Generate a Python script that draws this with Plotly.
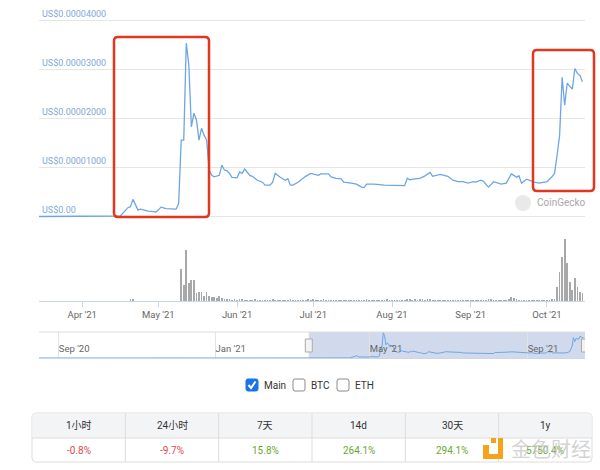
import pandas as pd
import plotly.graph_objects as go

W, H = 600, 470

# ---- price (USD, in units of 1e-5) ----
price_dates = [
    "2021-03-15", "2021-04-01", "2021-04-16", "2021-04-19", "2021-04-20", "2021-04-21",
    "2021-04-23", "2021-04-24", "2021-04-27", "2021-04-29", "2021-04-30", "2021-05-01",
    "2021-05-02", "2021-05-04", "2021-05-06", "2021-05-08", "2021-05-09", "2021-05-10",
    "2021-05-11", "2021-05-12", "2021-05-13", "2021-05-14", "2021-05-15", "2021-05-16",
    "2021-05-17", "2021-05-18", "2021-05-19", "2021-05-20", "2021-05-21", "2021-05-22",
    "2021-05-23", "2021-05-25", "2021-05-26", "2021-05-27", "2021-05-28", "2021-05-29",
    "2021-05-30", "2021-06-01", "2021-06-02", "2021-06-03", "2021-06-04", "2021-06-06",
    "2021-06-07", "2021-06-09", "2021-06-11", "2021-06-12", "2021-06-14", "2021-06-15",
    "2021-06-16", "2021-06-18", "2021-06-20", "2021-06-21", "2021-06-22", "2021-06-23",
    "2021-06-25", "2021-06-27", "2021-06-28", "2021-06-30", "2021-07-02", "2021-07-03",
    "2021-07-04", "2021-07-06", "2021-07-07", "2021-07-08", "2021-07-10", "2021-07-12",
    "2021-07-13", "2021-07-16", "2021-07-18", "2021-07-20", "2021-07-21", "2021-07-22",
    "2021-07-25", "2021-07-29", "2021-08-03", "2021-08-06", "2021-08-07", "2021-08-08",
    "2021-08-10", "2021-08-12", "2021-08-14", "2021-08-16", "2021-08-17", "2021-08-20",
    "2021-08-23", "2021-08-25", "2021-08-27", "2021-08-29", "2021-08-31", "2021-09-02",
    "2021-09-03", "2021-09-05", "2021-09-06", "2021-09-08", "2021-09-10", "2021-09-12",
    "2021-09-13", "2021-09-15", "2021-09-17", "2021-09-18", "2021-09-19", "2021-09-20",
    "2021-09-21", "2021-09-23", "2021-09-24", "2021-09-26", "2021-09-28", "2021-10-01",
    "2021-10-03", "2021-10-04", "2021-10-05", "2021-10-06", "2021-10-07", "2021-10-08",
    "2021-10-09", "2021-10-10", "2021-10-11", "2021-10-12", "2021-10-13", "2021-10-14",
    "2021-10-15",
]
price_1e5 = [
    0.00, 0.00, 0.01, 0.18, 0.20, 0.35,
    0.13, 0.15, 0.11, 0.10, 0.09, 0.13,
    0.19, 0.16, 0.15, 0.15, 0.27, 1.56,
    1.56, 3.54, 3.09, 1.83, 2.11, 1.97,
    1.56, 1.80, 1.66, 1.56, 0.95, 0.84,
    0.81, 0.84, 1.05, 0.95, 0.93, 0.88,
    0.80, 0.79, 0.91, 0.88, 0.97, 0.84,
    0.82, 0.74, 0.70, 0.64, 0.64, 0.70,
    0.88, 0.80, 0.74, 0.77, 0.64, 0.64,
    0.70, 0.78, 0.82, 0.88, 0.85, 0.84,
    0.87, 0.86, 0.87, 0.81, 0.78, 0.77,
    0.70, 0.68, 0.66, 0.60, 0.59, 0.66,
    0.66, 0.64, 0.64, 0.63, 0.78, 0.75,
    0.77, 0.78, 0.83, 0.90, 0.82, 0.86,
    0.82, 0.74, 0.71, 0.71, 0.68, 0.71,
    0.70, 0.74, 0.72, 0.60, 0.71, 0.68,
    0.66, 0.68, 0.87, 0.84, 0.80, 0.83,
    0.68, 0.76, 0.74, 0.70, 0.68, 0.71,
    0.81, 0.88, 1.25, 1.65, 2.84, 2.27,
    2.72, 2.66, 2.60, 3.02, 2.92, 2.88,
    2.75,
]
price = [v * 1e-5 for v in price_1e5]

price_ticks = [0, 1e-5, 2e-5, 3e-5, 4e-5]
price_tick_labels = ["US$0.00", "US$0.00001000", "US$0.00002000", "US$0.00003000", "US$0.00004000"]

# ---- daily trading volume (relative units) ----
early_volume_dates = ["2021-04-20", "2021-04-21"]
early_volume = [1.5, 2.0]
volume_start = "2021-05-10"
volume_daily = [
    # May 10 - 31
    32, 16, 51, 18, 21, 21, 8, 9, 9, 5, 9, 5, 4, 4, 3, 5, 3, 2, 2, 1.5, 1, 1.5,
    # June
    1, 1.5, 2, 1, 1, 0.8, 1, 1.2, 0.8, 0.6, 1, 0.8, 0.6, 1, 1.5,
    1, 0.8, 0.6, 1, 0.8, 1, 1.2, 0.8, 0.6, 1, 0.8, 0.6, 1, 1.5, 1,
    # July
    1.5, 1, 0.8, 1, 1.2, 0.8, 0.6, 1, 0.8, 0.6, 1, 0.8, 0.6, 0.5, 0.6, 0.8,
    1, 0.6, 0.5, 0.6, 0.8, 1.2, 0.6, 0.5, 0.6, 0.8, 1, 0.8, 0.6, 1.5, 1,
    # August
    0.8, 0.6, 0.5, 0.6, 0.8, 1, 1.5, 1.2, 1, 1.2, 1, 1.5, 1.2, 1, 1.2, 1.5,
    1, 0.8, 0.6, 0.8, 1, 0.8, 0.6, 0.5, 0.6, 0.8, 0.6, 0.5, 0.6, 0.8, 0.6,
    # September
    0.6, 0.8, 1, 0.8, 0.6, 0.8, 1, 1.5, 1.2, 0.8, 0.6, 0.5, 0.6, 0.8, 1,
    1.2, 4, 3.5, 1.5, 1, 0.8, 0.6, 0.5, 0.6, 0.8, 1, 0.6, 0.5, 0.6, 0.8,
    # October 1 - 15
    0.8, 1, 1.5, 2, 14, 29, 44, 62, 38, 19, 11, 23, 14, 9, 8,
]
volume_dates = early_volume_dates + [
    d.strftime("%Y-%m-%d") for d in pd.date_range(volume_start, periods=len(volume_daily), freq="D")
]
volume = early_volume + volume_daily

# ---- navigator (full history, zero before listing) ----
nav_start = "2020-08-17"
nav_dates = [nav_start] + price_dates
nav_price = [0.0] + price

view_range = ["2021-03-15", "2021-10-16"]
nav_range = [nav_start, "2021-10-16"]

# ---- series toggles and performance table ----
series_options = ["Main", "BTC", "ETH"]
series_checked = [True, False, False]
periods = ["1小时", "24小时", "7天", "14d", "30天", "1y"]
changes = [-0.8, -9.7, 15.8, 264.1, 294.1, 5750.4]

LINE = "#6ea6e3"
FONT = "Roboto, 'Noto Sans CJK SC', sans-serif"


def px(x):
    return x / W


def py(y):
    return 1 - y / H


def rounded_rect(x0, y0, x1, y1, r):
    """SVG path (paper coords) for a rounded rectangle given in pixels."""
    pts = [
        f"M {px(x0 + r)},{py(y0)}",
        f"L {px(x1 - r)},{py(y0)}",
        f"Q {px(x1)},{py(y0)} {px(x1)},{py(y0 + r)}",
        f"L {px(x1)},{py(y1 - r)}",
        f"Q {px(x1)},{py(y1)} {px(x1 - r)},{py(y1)}",
        f"L {px(x0 + r)},{py(y1)}",
        f"Q {px(x0)},{py(y1)} {px(x0)},{py(y1 - r)}",
        f"L {px(x0)},{py(y0 + r)}",
        f"Q {px(x0)},{py(y0)} {px(x0 + r)},{py(y0)} Z",
    ]
    return " ".join(pts)


def note(text, x, y, size=10, color="#333", anchor="center"):
    return dict(text=text, x=px(x), y=py(y), xref="paper", yref="paper",
                xanchor=anchor, yanchor="middle", showarrow=False,
                font=dict(size=size, color=color))


fig = go.Figure()

fig.add_trace(go.Scatter(x=price_dates, y=price, mode="lines",
                         line=dict(color=LINE, width=1.3), xaxis="x", yaxis="y",
                         hoverinfo="skip"))
fig.add_trace(go.Bar(x=volume_dates, y=volume, marker=dict(color="#a8a8a8", line=dict(width=0)),
                     width=0.3 * 86400000, xaxis="x2", yaxis="y2", hoverinfo="skip"))
fig.add_trace(go.Scatter(x=nav_dates, y=nav_price, mode="lines",
                         line=dict(color=LINE, width=1), xaxis="x3", yaxis="y3",
                         hoverinfo="skip"))

PLOT_L, PLOT_R = 39, 585
xdom = [px(PLOT_L), px(PLOT_R)]

# price axis: 0 sits at y=216.5 px and 4e-5 at y=20.5 px; a little headroom
# keeps the end tick labels inside the plotting area
PX_PER_UNIT = (216.5 - 20.5) / 4e-5
Y_BOT, Y_TOP = 224, 8
y_range = [-(Y_BOT - 216.5) / PX_PER_UNIT, 4e-5 + (20.5 - Y_TOP) / PX_PER_UNIT]

fig.update_layout(
    width=W, height=H, margin=dict(l=0, r=0, t=0, b=0),
    paper_bgcolor="white", plot_bgcolor="white", showlegend=False,
    font=dict(family=FONT, size=10, color="#333"),
    bargap=0,
    xaxis=dict(domain=xdom, type="date", range=view_range, showticklabels=False,
               showgrid=False, zeroline=False, showline=False, anchor="y"),
    yaxis=dict(domain=[py(Y_BOT), py(Y_TOP)], range=y_range, tickvals=price_ticks,
               ticktext=price_tick_labels, ticklabelposition="inside top", ticks="",
               showgrid=True, gridcolor="#e6e6e6", gridwidth=1, zeroline=False,
               showline=False, tickfont=dict(size=9, color="#7ea9dc"), anchor="x"),
    xaxis2=dict(domain=xdom, type="date", range=view_range, matches="x", anchor="y2",
                tickformat="%b '%y", dtick="M1", tick0="2021-04-01", ticks="outside",
                ticklen=5, tickcolor="#ccd6eb", showline=True, linecolor="#ccd6eb",
                showgrid=False, zeroline=False, tickfont=dict(size=9.5, color="#666")),
    yaxis2=dict(domain=[py(301), py(237)], range=[0, 64], visible=False, anchor="x2"),
    xaxis3=dict(domain=xdom, type="date", range=nav_range, anchor="y3",
                tickformat="%b '%y", dtick="M4", tick0="2020-09-01", ticks="",
                ticklabelposition="inside right", showgrid=True, gridcolor="#e3e3e3",
                showline=True, linecolor="#ccd6eb", zeroline=False,
                tickfont=dict(size=9.5, color="#666")),
    yaxis3=dict(domain=[py(358), py(332)], range=[0, 3.62e-5], visible=False, anchor="x3"),
)

shapes = []
annotations = []

# navigator: selected window, outline and handles
shapes.append(dict(type="rect", xref="x3", yref="paper", x0=view_range[0], x1=view_range[1],
                   y0=py(358), y1=py(332), fillcolor="rgba(102,133,194,0.3)",
                   line=dict(width=0), layer="below"))
shapes.append(dict(type="line", xref="paper", yref="paper", x0=px(PLOT_L), x1=px(PLOT_R),
                   y0=py(332), y1=py(332), line=dict(color="#dcdcdc", width=1)))
for d in view_range:
    shapes.append(dict(type="rect", xref="x3", yref="paper", xsizemode="pixel", xanchor=d,
                       x0=-3.5, x1=3.5, y0=py(352), y1=py(339), fillcolor="#f2f2f2",
                       line=dict(color="#aaaaaa", width=1)))

# highlight boxes on the price chart
shapes.append(dict(type="path", xref="paper", yref="paper",
                   path=rounded_rect(114, 37, 209, 217, 4), line=dict(color="#e2361d", width=2.5)))
shapes.append(dict(type="path", xref="paper", yref="paper",
                   path=rounded_rect(533, 50, 594, 191, 4), line=dict(color="#e2361d", width=2.5)))

# CoinGecko credit
shapes.append(dict(type="circle", xref="paper", yref="paper", x0=px(515), x1=px(531),
                   y0=py(211), y1=py(195), fillcolor="#e9e9e9", line=dict(width=0)))
annotations.append(note("CoinGecko", 535, 202.5, size=10, color="#a8a8a8", anchor="left"))

# series checkboxes
box_x = [246, 293, 337]
for name, checked, bx in zip(series_options, series_checked, box_x):
    if checked:
        shapes.append(dict(type="path", xref="paper", yref="paper",
                           path=rounded_rect(bx, 379, bx + 12, 391, 2),
                           fillcolor="#1a73e8", line=dict(color="#1a73e8", width=1)))
        shapes.append(dict(type="path", xref="paper", yref="paper",
                           path=f"M {px(bx + 2.5)},{py(385)} L {px(bx + 5)},{py(388)} L {px(bx + 9.5)},{py(381.5)}",
                           line=dict(color="white", width=2)))
    else:
        shapes.append(dict(type="path", xref="paper", yref="paper",
                           path=rounded_rect(bx, 379, bx + 12, 391, 2),
                           fillcolor="white", line=dict(color="#8a8a8a", width=1)))
    annotations.append(note(name, bx + 16, 385.5, anchor="left"))

# performance table
T_L, T_R, T_TOP, T_MID, T_BOT = 32, 592, 413, 438, 462
shapes.append(dict(type="path", xref="paper", yref="paper",
                   path=rounded_rect(T_L, T_TOP, T_R, T_BOT, 4),
                   fillcolor="white", line=dict(color="#dddddd", width=1), layer="below"))
shapes.append(dict(type="rect", xref="paper", yref="paper", x0=px(T_L + 0.5), x1=px(T_R - 0.5),
                   y0=py(T_MID), y1=py(T_TOP + 0.5), fillcolor="#f3f4f6",
                   line=dict(width=0), layer="below"))
shapes.append(dict(type="line", xref="paper", yref="paper", x0=px(T_L), x1=px(T_R),
                   y0=py(T_MID), y1=py(T_MID), line=dict(color="#dddddd", width=1)))
col_w = (T_R - T_L) / len(periods)
for i in range(1, len(periods)):
    xx = T_L + i * col_w
    shapes.append(dict(type="line", xref="paper", yref="paper", x0=px(xx), x1=px(xx),
                       y0=py(T_BOT), y1=py(T_TOP), line=dict(color="#dddddd", width=1)))
for i, (p, c) in enumerate(zip(periods, changes)):
    cx = T_L + (i + 0.5) * col_w
    annotations.append(note(p, cx, 425.5))
    annotations.append(note(f"{c:.1f}%", cx, 450.5,
                            color="#e0474c" if c < 0 else "#68a82f"))

# publisher mark in the lower right corner
for x0, y0, x1, y1 in [(483, 445, 489, 459), (483, 454, 503, 459), (498, 438, 503, 459), (491, 438, 496, 443)]:
    shapes.append(dict(type="rect", xref="paper", yref="paper", x0=px(x0), x1=px(x1),
                       y0=py(y1), y1=py(y0), fillcolor="#f5a31a", line=dict(width=0)))
annotations.append(note("金色财经", 551, 449.5, size=20, color="rgba(200,200,200,0.8)"))

fig.update_layout(shapes=shapes, annotations=annotations)
fig.write_html("out.html")
